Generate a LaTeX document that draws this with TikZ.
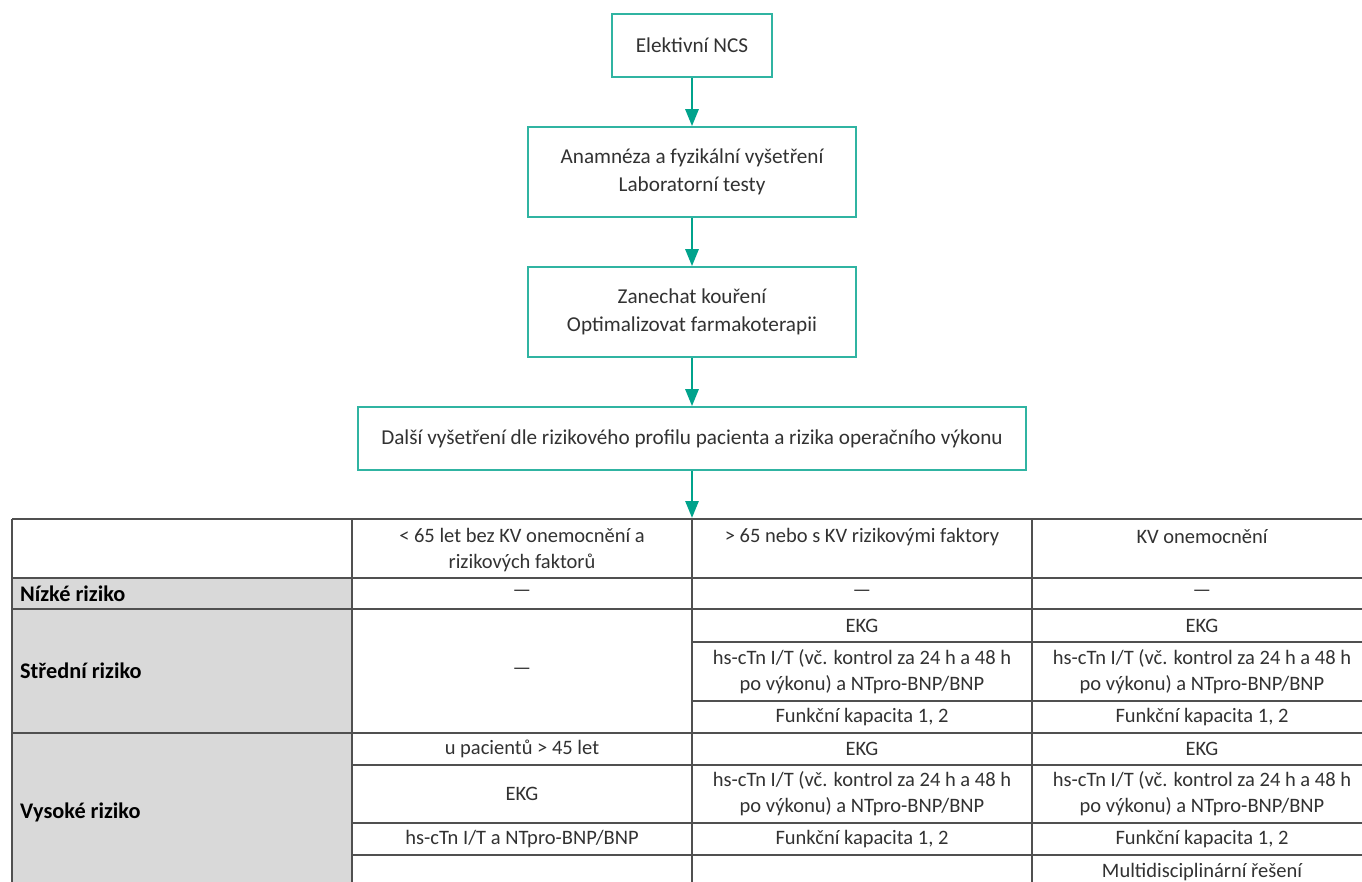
\documentclass[tikz,border=0pt]{standalone}
\usepackage{fontspec}
\setmainfont{Carlito}
\usetikzlibrary{arrows.meta}
\definecolor{boxteal}{RGB}{48,180,162}
\definecolor{arrteal}{RGB}{0,163,140}
\definecolor{textgray}{RGB}{50,50,50}
\definecolor{linegray}{RGB}{80,80,80}
\definecolor{labelgray}{RGB}{217,217,217}
\newcommand{\cellfont}{\fontsize{20.5}{26}\selectfont}
\newcommand{\boxfont}{\fontsize{21.2}{28}\selectfont}
\newcommand{\labfont}{\fontsize{22.3}{26}\selectfont\bfseries}
\tikzset{
  flowbox/.style={draw=boxteal, line width=1.6pt, fill=white, align=center,
    font=\boxfont, text=textgray, inner sep=0pt},
  flowarr/.style={draw=arrteal, line width=2.7pt, -{Triangle[width=13pt,length=17pt]}},
  gridline/.style={draw=linegray, line width=1.2pt},
  cell/.style={font=\cellfont, text=textgray, align=center, inner sep=0pt},
  rowlabel/.style={font=\labfont, text=black, anchor=west, inner sep=0pt},
}
\begin{document}
\begin{tikzpicture}[x=1pt, y=-1pt]
\clip (0,0) rectangle (1362,881);
\fill[white] (0,0) rectangle (1362,881);

% flow boxes
\node[flowbox, minimum width=160pt, minimum height=63pt] (n1) at (692,45.5) {Elektivní NCS};
\node[flowbox, minimum width=328pt, minimum height=90pt] (n2) at (692,172) {Anamnéza a fyzikální vyšetření\\Laboratorní testy};
\node[flowbox, minimum width=328pt, minimum height=90pt] (n3) at (692,312) {Zanechat kouření\\Optimalizovat farmakoterapii};
\node[flowbox, minimum width=668pt, minimum height=63pt] (n4) at (692,438.5) {Další vyšetření dle rizikového profilu pacienta a rizika operačního výkonu};
\coordinate (tabtop) at (692,518);

\draw[flowarr] (n1) -- (n2);
\draw[flowarr] (n2) -- (n3);
\draw[flowarr] (n3) -- (n4);
\draw[flowarr] (n4) -- (tabtop);

% table background
\fill[labelgray] (12,578) rectangle (352,895);

% table grid
\draw[gridline] (12,519) -- (1372,519);
\draw[gridline] (12,578) -- (1372,578);
\draw[gridline] (12,609) -- (1372,609);
\draw[gridline] (692,642) -- (1372,642);
\draw[gridline] (692,701) -- (1372,701);
\draw[gridline] (12,733) -- (1372,733);
\draw[gridline] (352,765) -- (1372,765);
\draw[gridline] (352,823) -- (1372,823);
\draw[gridline] (352,855) -- (1372,855);
\draw[gridline] (12,519) -- (12,895);
\draw[gridline] (352,519) -- (352,895);
\draw[gridline] (692,519) -- (692,895);
\draw[gridline] (1032,519) -- (1032,895);

% header
\node[cell] (h2) at (522,550) {< 65 let bez KV onemocnění a\\rizikových faktorů};
\node[cell] (h3) at (862,537) {> 65 nebo s KV rizikovými faktory};
\node[cell] (h4) at (1202,537) {KV onemocnění};

% row labels
\node[rowlabel] (r1) at (20,593.5) {Nízké riziko};
\node[rowlabel] (r2) at (20,671) {Střední riziko};
\node[rowlabel] (r3) at (20,812) {Vysoké riziko};

% low risk
\node[cell] (l2) at (522,593.5) {—};
\node[cell] (l3) at (862,593.5) {—};
\node[cell] (l4) at (1202,593.5) {—};

% intermediate risk
\node[cell] (m2) at (522,671) {—};
\node[cell] (m3a) at (862,625.5) {EKG};
\node[cell] (m3b) at (862,671.5) {hs-cTn I/T (vč. kontrol za 24 h a 48 h\\po výkonu) a NTpro-BNP/BNP};
\node[cell] (m3c) at (862,717) {Funkční kapacita 1, 2};
\node[cell] (m4a) at (1202,625.5) {EKG};
\node[cell] (m4b) at (1202,671.5) {hs-cTn I/T (vč. kontrol za 24 h a 48 h\\po výkonu) a NTpro-BNP/BNP};
\node[cell] (m4c) at (1202,717) {Funkční kapacita 1, 2};

% high risk
\node[cell] (v2a) at (522,749) {u pacientů > 45 let};
\node[cell] (v2b) at (522,794) {EKG};
\node[cell] (v2c) at (522,839) {hs-cTn I/T a NTpro-BNP/BNP};
\node[cell] (v3a) at (862,749) {EKG};
\node[cell] (v3b) at (862,794) {hs-cTn I/T (vč. kontrol za 24 h a 48 h\\po výkonu) a NTpro-BNP/BNP};
\node[cell] (v3c) at (862,839) {Funkční kapacita 1, 2};
\node[cell] (v4a) at (1202,749) {EKG};
\node[cell] (v4b) at (1202,794) {hs-cTn I/T (vč. kontrol za 24 h a 48 h\\po výkonu) a NTpro-BNP/BNP};
\node[cell] (v4c) at (1202,839) {Funkční kapacita 1, 2};
\node[cell] (v4d) at (1202,872) {Multidisciplinární řešení};
\end{tikzpicture}
\end{document}
